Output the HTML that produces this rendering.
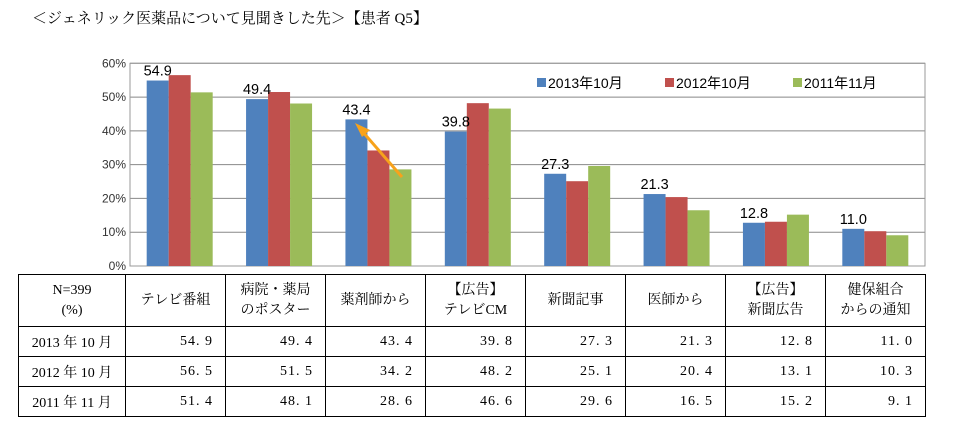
<!DOCTYPE html>
<html><head><meta charset="utf-8"><style>
body{margin:0;width:957px;height:427px;background:#fff;overflow:hidden;font-family:"Liberation Serif","Noto Serif CJK JP",serif}
#title{position:absolute;left:32px;top:7px;font-size:15px;color:#000;white-space:nowrap;font-family:"Liberation Serif","Noto Serif CJK JP",serif}
svg{position:absolute;left:0;top:0}
table{position:absolute;left:18px;top:274px;border-collapse:collapse;font-size:14px;font-family:"Liberation Serif","Noto Serif CJK JP",serif;table-layout:fixed}
td{border:1.5px solid #000;padding:0 10px;white-space:nowrap}
tr.h td{height:51px;text-align:center;line-height:20px}
tr.d td{height:29px;text-align:right;letter-spacing:1px;padding-right:12px}
tr.d td:first-child{text-align:center;letter-spacing:0;padding:0 4px}
</style></head><body>
<div id="title">＜ジェネリック医薬品について見聞きした先＞【患者 Q5】</div>
<svg id="chart" width="957" height="427"></svg>
<table>
<tr class="h"><td style="width:86px">N=399<br>(%)</td><td style="width:79px">テレビ番組</td><td style="width:79px">病院・薬局<br>のポスター</td><td style="width:79px">薬剤師から</td><td style="width:79px">【広告】<br>テレビCM</td><td style="width:79px">新聞記事</td><td style="width:79px">医師から</td><td style="width:79px">【広告】<br>新聞広告</td><td style="width:79px">健保組合<br>からの通知</td></tr>
<tr class="d"><td>2013 年 10 月</td><td>54. 9</td><td>49. 4</td><td>43. 4</td><td>39. 8</td><td>27. 3</td><td>21. 3</td><td>12. 8</td><td>11. 0</td></tr>
<tr class="d"><td>2012 年 10 月</td><td>56. 5</td><td>51. 5</td><td>34. 2</td><td>48. 2</td><td>25. 1</td><td>20. 4</td><td>13. 1</td><td>10. 3</td></tr>
<tr class="d"><td>2011 年 11 月</td><td>51. 4</td><td>48. 1</td><td>28. 6</td><td>46. 6</td><td>29. 6</td><td>16. 5</td><td>15. 2</td><td>9. 1</td></tr>
</table>
<script>
const categories=["テレビ番組","病院・薬局のポスター","薬剤師から","【広告】テレビCM","新聞記事","医師から","【広告】新聞広告","健保組合からの通知"];
const s2013=[54.9,49.4,43.4,39.8,27.3,21.3,12.8,11.0];
const s2012=[56.5,51.5,34.2,48.2,25.1,20.4,13.1,10.3];
const s2011=[51.4,48.1,28.6,46.6,29.6,16.5,15.2,9.1];
const seriesNames=["2013年10月","2012年10月","2011年11月"];
const yTicks=[0,10,20,30,40,50,60];
const colors=["#4f81bd","#c0504d","#9bbb59"];
const svg=document.getElementById('chart');const NS="http://www.w3.org/2000/svg";
const L=130,R=925,T=63.3,B=266;
const y=v=>B-(v/60)*(B-T);
const bw=(R-L)/categories.length;
const x=i=>L+bw*i;
function mk(t,a){const e=document.createElementNS(NS,t);for(const k in a)e.setAttribute(k,a[k]);svg.appendChild(e);return e;}
yTicks.forEach(t=>{
 const l=mk('line',{x1:L,x2:R,y1:y(t),y2:y(t),stroke:'#888','stroke-width':1});
 
 
 const tx=mk('text',{x:L-4,y:y(t)+4,'text-anchor':'end','font-size':12,fill:'#333','font-family':'Liberation Sans,sans-serif'});
 tx.textContent=t+'%';
 
 
});
mk('rect',{x:L,y:T,width:R-L,height:B-T,fill:'none',stroke:'#999','stroke-width':1});
[s2013,s2012,s2011].forEach((s,k)=>{
 s.forEach((v,i)=>{
  const r=mk('rect',{x:x(i)+bw/2-33+k*22,y:y(v),width:22,height:B-y(v),fill:colors[k]});
  
  
 });
});
s2013.forEach((v,i)=>{
 const t=mk('text',{x:x(i)+bw/2-22,y:y(v)-5,'text-anchor':'middle','font-size':14.5,fill:'#000','font-family':'Liberation Sans,sans-serif'});
 t.textContent=v.toFixed(1);
 
 
});
seriesNames.forEach((n,k)=>{
 const lx=537+k*128;
 const r=mk('rect',{x:lx,y:78,width:9,height:9,fill:colors[k]});
 
 
 const t=mk('text',{x:lx+11,y:88,'font-size':14,fill:'#000','font-family':'Liberation Sans,Noto Sans CJK JP,sans-serif'});
 t.textContent=n;
 
 
});
const a=mk('line',{x1:402,y1:177,x2:362,y2:131,stroke:'#f7a21b','stroke-width':3});


const h=mk('polygon',{points:'355,123 370,130 362,137',fill:'#f7a21b'});


</script>
</body></html>
